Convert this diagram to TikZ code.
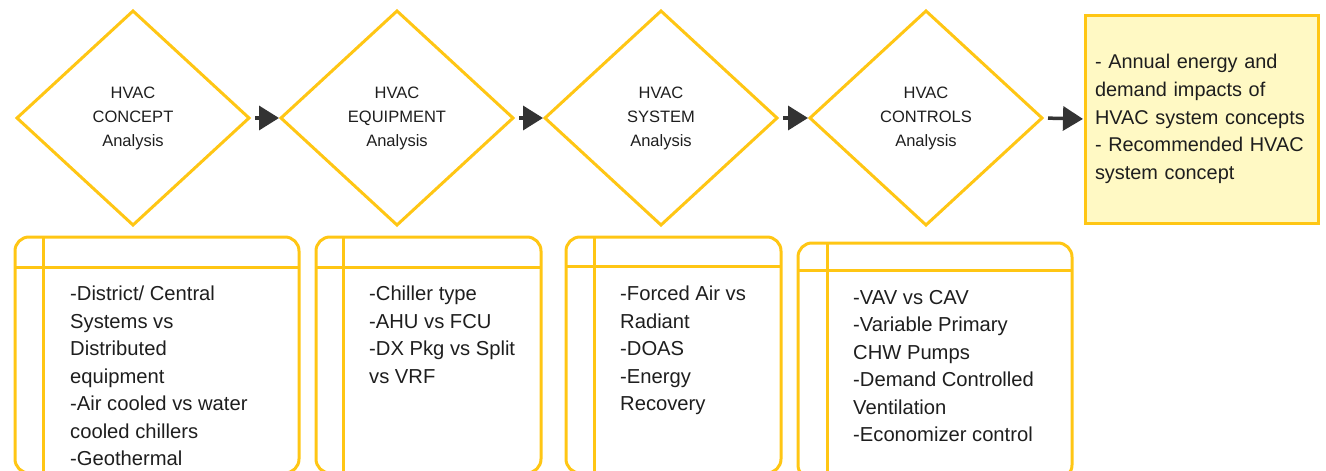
\documentclass[tikz,border=0pt]{standalone}
\usepackage{fontspec}
\setmainfont{Liberation Sans}
\usetikzlibrary{shapes.geometric,arrows.meta}
\definecolor{gold}{RGB}{255,198,20}
\definecolor{paleyellow}{RGB}{255,249,196}
\definecolor{ink}{RGB}{30,30,30}
\definecolor{arrowgray}{RGB}{51,51,51}

\begin{document}
\begin{tikzpicture}[x=1pt,y=-1pt,
  stage/.style={diamond, draw=gold, line width=3pt, minimum width=232pt,
    minimum height=214pt, inner sep=0pt, outer sep=0pt, align=center,
    text=ink, font=\fontsize{16.5}{24}\selectfont},
  flow/.style={draw=arrowgray, line width=3.5pt,
    -{Triangle[length=20pt,width=24pt]}, shorten <=6pt, shorten >=2pt},
  listbox/.style={draw=gold, line width=3pt, rounded corners=14pt,
    anchor=north west, inner sep=0pt, outer sep=0pt, minimum height=236pt},
  listtext/.style={anchor=north west, inner sep=0pt, align=left, text=ink,
    font=\fontsize{20.2}{27.5}\selectfont},
  divider/.style={draw=gold, line width=3pt},
  result/.style={rectangle, draw=gold, fill=paleyellow, line width=3pt,
    minimum width=233pt, minimum height=208pt, inner xsep=10pt, inner ysep=0pt,
    outer sep=0pt, text width=213pt, align=left, text=ink,
    font=\fontsize{19.9}{27.75}\selectfont}
]
\useasboundingbox (0,0) rectangle (1326,471);
\clip (0,0) rectangle (1326,471);

% analysis stages
\node[stage] (d1) at (133,118) {HVAC\\CONCEPT\\Analysis};
\node[stage] (d2) at (397,118) {HVAC\\EQUIPMENT\\Analysis};
\node[stage] (d3) at (661,118) {HVAC\\SYSTEM\\Analysis};
\node[stage] (d4) at (926,118) {HVAC\\CONTROLS\\Analysis};

% deliverable
\node[result] (out) at (1201.5,119) {- Annual energy and\\demand impacts of\\HVAC system concepts\\- Recommended HVAC\\system concept};

% flow between stages
\draw[flow] (d1.east) -- (d2.west);
\draw[flow] (d2.east) -- (d3.west);
\draw[flow] (d3.east) -- (d4.west);
\draw[flow] (d4.east) -- (out.west);

% detail cards
\node[listbox, minimum width=284pt] (b1) at (15,237) {};
\node[listbox, minimum width=225pt] (b2) at (316,237) {};
\node[listbox, minimum width=215pt] (b3) at (566,237) {};
\node[listbox, minimum width=274pt] (b4) at (798,243) {};

\foreach \b/\dy/\dx in {b1/30/28, b2/30/27, b3/29/28, b4/27/29} {
  \draw[divider] ([yshift=-\dy pt]\b.north west) -- ([yshift=-\dy pt]\b.north east);
  \draw[divider] ([xshift=\dx pt]\b.north west) -- ([xshift=\dx pt]\b.south west);
}

\node[listtext] (t1) at (70,286) {-District/ Central\\Systems vs\\Distributed\\equipment\\-Air cooled vs water\\cooled chillers\\-Geothermal};
\node[listtext] (t2) at (369,286) {-Chiller type\\-AHU vs FCU\\-DX Pkg vs Split\\vs VRF};
\node[listtext] (t3) at (620,286) {-Forced Air vs\\Radiant\\-DOAS\\-Energy\\Recovery};
\node[listtext] (t4) at (853,290) {-VAV vs CAV\\-Variable Primary\\CHW Pumps\\-Demand Controlled\\Ventilation\\-Economizer control};
\end{tikzpicture}
\end{document}
